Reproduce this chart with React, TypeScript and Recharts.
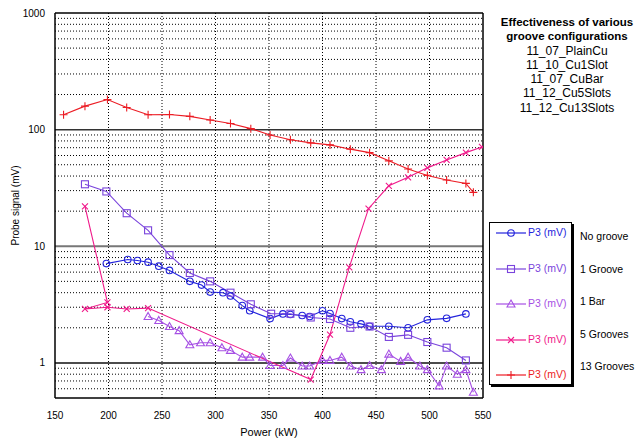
import React from 'react';
import { LineChart, Line, XAxis, YAxis, CartesianGrid, ReferenceLine, Legend } from 'recharts';

// power (kW) and probe signal (mV) per groove configuration
const noGroovePower = [198, 218, 227, 237, 247, 257, 276, 287, 295, 307, 314, 325, 332, 351, 363, 370, 381, 388, 400, 407, 418, 426, 436, 444, 462, 480, 498, 516, 534];
const noGrooveSignal = [7.1, 7.7, 7.55, 7.3, 6.75, 6.2, 5.0, 4.65, 4.05, 4.0, 3.75, 3.1, 2.8, 2.4, 2.63, 2.6, 2.55, 2.5, 2.8, 2.65, 2.4, 2.25, 2.16, 2.06, 2.06, 2.0, 2.34, 2.41, 2.63];

const oneGroovePower = [178, 198, 217, 237, 257, 276, 295, 314, 333, 352, 370, 389, 407, 426, 444, 462, 480, 498, 516, 534];
const oneGrooveSignal = [34, 29.5, 19.2, 13.7, 8.4, 5.9, 5.0, 4.0, 3.18, 2.64, 2.64, 2.45, 2.38, 2.0, 2.05, 1.67, 1.74, 1.51, 1.35, 1.05];

const oneBarPower = [237, 247, 257, 266, 276, 286, 295, 306, 314, 325, 332, 344, 351, 363, 370, 381, 388, 400, 407, 418, 426, 436, 444, 455, 462, 473, 480, 491, 498, 509, 516, 526, 534, 541];
const oneBarSignal = [2.5, 2.31, 2.05, 1.89, 1.43, 1.49, 1.49, 1.35, 1.28, 1.12, 1.12, 1.12, 0.95, 0.95, 1.1, 0.94, 0.94, 1.05, 1.05, 1.12, 0.94, 0.875, 0.95, 0.875, 1.19, 1.03, 1.12, 0.94, 0.875, 0.635, 0.94, 0.8, 0.875, 0.56];

const fiveGroovesPower = [178, 199, 178, 199, 217, 237, 389, 407, 425, 443, 462, 480, 498, 516, 534, 549];
const fiveGroovesSignal = [22, 3.3, 2.9, 3.0, 2.9, 2.95, 0.72, 1.75, 6.6, 21, 33, 39, 47, 55, 63.5, 71];

const thirteenGroovesPower = [158, 178, 199, 217, 237, 257, 276, 295, 314, 333, 351, 370, 389, 407, 426, 444, 462, 480, 498, 516, 534, 541];
const thirteenGroovesSignal = [134, 159, 181, 155, 134, 135, 130, 121, 113, 102, 90, 82, 77, 74, 68, 63.5, 54, 46, 40.5, 37, 34.6, 29];

const seriesNames = ['No groove', '1 Groove', '1 Bar', '5 Grooves', '13 Grooves'];
const seriesLabel = 'P3 (mV)';
const runNames = ['11_07_PlainCu', '11_10_Cu1Slot', '11_07_CuBar', '11_12_Cu5Slots', '11_12_Cu13Slots'];

const powerTicks = [150, 200, 250, 300, 350, 400, 450, 500, 550];
const powerGrid = [200, 250, 300, 350, 400, 450, 500];
const powerMinorTicks = [160, 170, 180, 190, 200, 210, 220, 230, 240, 250, 260, 270, 280, 290, 300, 310, 320, 330, 340, 350, 360, 370, 380, 390, 400, 410, 420, 430, 440, 450, 460, 470, 480, 490, 500, 510, 520, 530, 540];
const signalTicks = [1, 10, 100, 1000];
const signalMinorTicks = [0.6, 0.7, 0.8, 0.9, 2, 3, 4, 5, 6, 7, 8, 9, 20, 30, 40, 50, 60, 70, 80, 90, 200, 300, 400, 500, 600, 700, 800, 900];

const FONT = '"Liberation Sans", Arial, sans-serif';

const toRows = (power: number[], signal: number[]) => power.map((p, i) => ({ power: p, signal: signal[i] }));

const series = [
  { key: 'noGroove', data: toRows(noGroovePower, noGrooveSignal), color: '#2424dc', shape: 'circle' },
  { key: 'oneGroove', data: toRows(oneGroovePower, oneGrooveSignal), color: '#7a44dc', shape: 'square' },
  { key: 'oneBar', data: toRows(oneBarPower, oneBarSignal), color: '#a650e4', shape: 'triangle' },
  { key: 'fiveGrooves', data: toRows(fiveGroovesPower, fiveGroovesSignal), color: '#f0198a', shape: 'cross' },
  { key: 'thirteenGrooves', data: toRows(thirteenGroovesPower, thirteenGroovesSignal), color: '#ec1c24', shape: 'plus' },
];

const Marker = ({ cx, cy, shape, color }: { cx: number; cy: number; shape: string; color: string }) => {
  if (cx == null || cy == null) return null;
  const common = { fill: 'none', stroke: color, strokeWidth: 1.1 };
  switch (shape) {
    case 'circle':
      return <circle cx={cx} cy={cy} r={3.3} {...common} />;
    case 'square':
      return <rect x={cx - 3.5} y={cy - 3.5} width={7} height={7} {...common} />;
    case 'triangle':
      return <path d={`M${cx},${cy - 4}L${cx + 4},${cy + 3}L${cx - 4},${cy + 3}Z`} {...common} />;
    case 'cross':
      return <path d={`M${cx - 3},${cy - 3}L${cx + 3},${cy + 3}M${cx - 3},${cy + 3}L${cx + 3},${cy - 3}`} {...common} />;
    default:
      return <path d={`M${cx - 4},${cy}L${cx + 4},${cy}M${cx},${cy - 4}L${cx},${cy + 4}`} {...common} />;
  }
};

const LegendBox = () => (
  <div style={{ position: 'relative', width: 146, height: 166, fontFamily: FONT }}>
    <div
      style={{
        position: 'absolute', left: 0, top: 0, width: 81, height: 161,
        border: '1px solid #000', boxShadow: '2px 2px 0 #000', background: '#fff',
      }}
    >
      {series.map((s, i) => (
        <div key={s.key} style={{ position: 'absolute', left: 0, top: i * 35.6 + 2, height: 16, width: 81 }}>
          <svg width={38} height={16} style={{ position: 'absolute', left: 6, top: 0 }}>
            <line x1={0} y1={8} x2={30} y2={8} stroke={s.color} strokeWidth={1.2} />
            <Marker cx={15} cy={8} shape={s.shape} color={s.color} />
          </svg>
          <span style={{ position: 'absolute', left: 38, top: 1, fontSize: 10.5, color: s.color, whiteSpace: 'nowrap' }}>
            {seriesLabel}
          </span>
        </div>
      ))}
    </div>
    {seriesNames.map((n, i) => (
      <div key={n} style={{ position: 'absolute', left: 91, top: 8 + i * 32.5, fontSize: 10.5, color: '#000', whiteSpace: 'nowrap' }}>
        {n}
      </div>
    ))}
  </div>
);

export default function App() {
  return (
    <div style={{ position: 'absolute', left: 0, top: 0, width: 635, height: 439, background: '#fff', overflow: 'hidden' }}>
      <LineChart width={635} height={439} margin={{ top: 13, right: 152, bottom: 0, left: 0 }}>
        <CartesianGrid
          horizontalValues={signalMinorTicks}
          verticalValues={powerGrid}
          stroke="#000"
          strokeDasharray="1 2"
          strokeWidth={1}
        />
        <XAxis
          type="number"
          dataKey="power"
          domain={[150, 550]}
          ticks={powerTicks}
          interval={0}
          allowDataOverflow
          height={41}
          tickLine={false}
          tickMargin={8}
          axisLine={{ stroke: '#000', strokeWidth: 1.5 }}
          tick={{ fontSize: 10, fill: '#000', fontFamily: FONT }}
          label={{ value: 'Power (kW)', position: 'insideBottom', offset: 0, dy: -3, fontSize: 11, fill: '#000', fontFamily: FONT }}
        />
        <XAxis xAxisId="minorBottom" type="number" domain={[150, 550]} ticks={powerMinorTicks} interval={0} allowDataOverflow orientation="bottom" mirror height={0} tick={false} axisLine={false} tickSize={3} tickLine={{ stroke: '#000' }} />
        <XAxis xAxisId="minorTop" type="number" domain={[150, 550]} ticks={powerMinorTicks} interval={0} allowDataOverflow orientation="top" mirror height={0} tick={false} axisLine={false} tickSize={3} tickLine={{ stroke: '#000' }} />
        <YAxis
          type="number"
          scale="log"
          domain={[0.5, 1000]}
          ticks={signalTicks}
          interval={0}
          allowDataOverflow
          width={55}
          tickLine={false}
          tickMargin={4}
          axisLine={{ stroke: '#000', strokeWidth: 1.5 }}
          tick={{ fontSize: 10, fill: '#000', fontFamily: FONT }}
          label={({ viewBox }: any) => (
            <text
              x={15}
              y={viewBox.y + viewBox.height / 2}
              transform={`rotate(-90 15 ${viewBox.y + viewBox.height / 2})`}
              textAnchor="middle"
              dominantBaseline="central"
              fontSize={10}
              fontFamily={FONT}
              fill="#000"
            >
              Probe signal (mV)
            </text>
          )}
        />
        <YAxis yAxisId="minorLeft" type="number" scale="log" domain={[0.5, 1000]} ticks={signalMinorTicks} interval={0} allowDataOverflow orientation="left" mirror width={0} tick={false} axisLine={false} tickSize={3} tickLine={{ stroke: '#000' }} />
        <YAxis yAxisId="minorRight" type="number" scale="log" domain={[0.5, 1000]} ticks={signalMinorTicks} interval={0} allowDataOverflow orientation="right" mirror width={0} tick={false} axisLine={false} tickSize={3} tickLine={{ stroke: '#000' }} />
        <ReferenceLine y={1} stroke="#111" strokeWidth={1.5} />
        <ReferenceLine y={10} stroke="#777" strokeWidth={2} />
        <ReferenceLine y={100} stroke="#333" strokeWidth={1.5} />
        <ReferenceLine y={1000} stroke="#000" strokeWidth={1.5} />
        <ReferenceLine x={550} stroke="#000" strokeWidth={1.5} />
        <Legend
          layout="horizontal"
          verticalAlign="middle"
          align="center"
          content={() => <LegendBox />}
          wrapperStyle={{ position: 'absolute', left: 489, top: 222, width: 146, height: 166 }}
        />
        {series.map((s) => (
          <Line
            key={s.key}
            data={s.data}
            dataKey="signal"
            name={seriesLabel}
            type="linear"
            stroke={s.color}
            strokeWidth={1.1}
            isAnimationActive={false}
            dot={(p: any) => <Marker key={`${s.key}-${p.index}`} cx={p.cx} cy={p.cy} shape={s.shape} color={s.color} />}
            activeDot={false}
          />
        ))}
      </LineChart>
      <div
        style={{
          position: 'absolute', left: 487, top: 15, width: 160, textAlign: 'center',
          fontFamily: FONT, lineHeight: '14.3px', color: '#000',
        }}
      >
        <div style={{ fontWeight: 'bold', fontSize: 11.5 }}>Effectiveness of various</div>
        <div style={{ fontWeight: 'bold', fontSize: 11.5 }}>groove configurations</div>
        {runNames.map((r) => (
          <div key={r} style={{ fontSize: 12 }}>{r}</div>
        ))}
      </div>
    </div>
  );
}
